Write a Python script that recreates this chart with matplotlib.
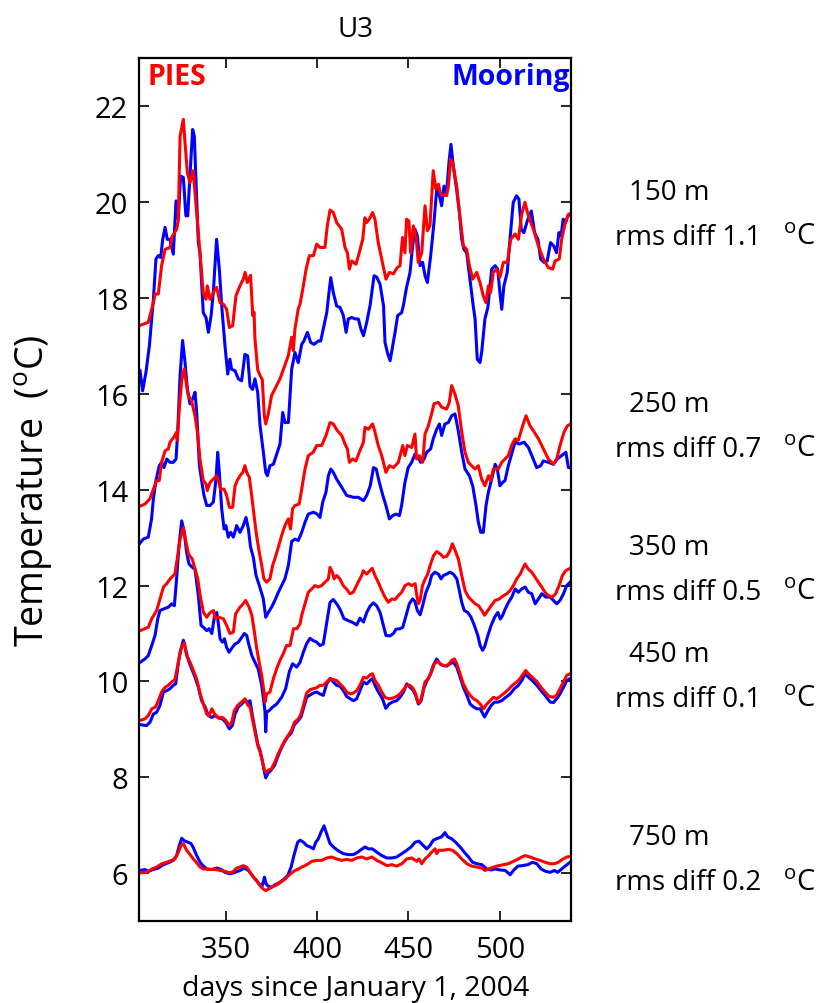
import matplotlib
matplotlib.use("Agg")
from matplotlib import pyplot as plt

# data: days since 1 Jan 2004, temperature in degC
d150_moor = [303.1, 304.5, 306.3, 308.2, 310.4, 311.8, 313.1, 314.4, 315.5, 316.8, 318.0, 319.5, 321.3, 322.8, 324.0,
             325.3, 326.8, 328.2, 329.2, 330.4, 331.9, 332.8, 334.1, 335.0, 335.9, 337.7, 339.2, 340.5, 342.0, 343.2,
             345.0, 346.5, 347.8, 349.6, 351.1, 352.3, 353.2, 355.1, 356.9, 358.7, 360.5, 362.0, 363.3, 364.7, 366.0,
             367.5, 368.8, 370.6, 371.9, 372.8, 374.2, 376.1, 377.9, 379.7, 381.2, 382.4, 384.3, 386.1, 387.9, 389.7,
             391.6, 392.8, 394.7, 396.5, 398.3, 400.7, 402.0, 403.4, 405.3, 406.5, 407.5, 408.9, 410.7, 412.6, 414.4,
             415.9, 417.1, 419.0, 420.8, 422.6, 424.0, 425.4, 427.2, 429.1, 430.0, 431.2, 432.7, 434.5, 436.4, 437.2,
             438.5, 440.0, 441.4, 442.7, 444.1, 446.3, 447.2, 449.0, 450.9, 452.3, 453.6, 454.9, 456.4, 457.8, 459.1,
             460.4, 462.2, 464.0, 465.5, 467.0, 468.2, 469.5, 470.9, 472.2, 473.3, 474.6, 476.4, 477.9, 479.2, 480.4,
             481.9, 483.7, 485.5, 486.5, 487.7, 489.2, 490.1, 491.9, 493.5, 495.6, 497.5, 498.9, 500.1, 501.1, 502.3,
             504.1, 505.6, 507.4, 509.2, 510.5, 511.8, 513.2, 515.4, 517.3, 519.1, 520.9, 522.4, 524.2, 526.0, 527.8,
             529.6, 531.1, 532.4, 533.6, 534.7, 536.0, 537.3, 539.1]
t150_moor = [16.48, 16.06, 16.44, 17.0, 17.97, 18.81, 18.88, 18.84, 19.22, 19.47, 19.22, 19.22, 18.91, 20.02, 19.64,
             20.54, 20.51, 19.71, 19.71, 20.54, 21.51, 21.37, 20.06, 19.15, 18.94, 17.69, 17.59, 17.28, 17.63, 18.11,
             19.22, 18.6, 17.83, 17.0, 16.41, 16.72, 16.51, 16.48, 16.31, 16.27, 16.82, 16.79, 16.16, 16.09, 16.31,
             16.03, 15.33, 14.78, 14.36, 14.29, 14.5, 14.53, 14.74, 14.95, 15.61, 15.4, 15.4, 16.51, 16.86, 16.65,
             17.03, 17.1, 17.28, 17.07, 17.03, 17.1, 17.1, 17.35, 17.69, 18.1, 18.42, 18.11, 17.83, 17.8, 17.63,
             17.28, 17.56, 17.59, 17.56, 17.56, 17.35, 17.21, 17.49, 17.86, 18.11, 18.46, 18.43, 18.28, 17.83, 17.07,
             16.86, 16.69, 17.0, 17.28, 17.63, 17.69, 17.83, 18.22, 18.53, 19.08, 19.43, 19.29, 18.67, 18.74, 18.46,
             18.32, 18.88, 19.57, 20.26, 20.13, 19.92, 20.33, 20.19, 20.82, 21.2, 20.75, 20.26, 19.78, 19.22, 19.01,
             18.94, 18.39, 17.83, 17.56, 16.72, 16.65, 16.86, 17.56, 17.8, 18.6, 18.67, 18.6, 18.11, 17.76, 18.25,
             18.53, 19.22, 19.99, 20.13, 20.06, 19.43, 19.36, 19.64, 19.81, 19.36, 19.22, 18.81, 18.74, 18.77, 19.15,
             19.08, 18.94, 19.36, 19.29, 19.64, 19.57, 19.71, 19.74]
d150_pies = [302.7, 307.6, 310.4, 311.3, 313.1, 314.9, 316.8, 319.5, 320.4, 323.1, 324.0, 325.0, 326.8, 327.7, 329.0,
             330.4, 332.2, 334.1, 335.9, 337.7, 339.2, 339.9, 341.4, 343.2, 345.0, 346.9, 348.7, 350.5, 352.0, 353.8,
             355.6, 357.8, 359.6, 360.6, 361.8, 363.6, 364.8, 365.5, 366.0, 367.5, 368.8, 370.0, 371.1, 371.9, 373.3,
             375.1, 376.9, 379.7, 382.4, 384.3, 386.1, 387.0, 387.9, 389.7, 390.7, 392.5, 394.0, 395.8, 398.0, 399.8,
             401.6, 404.3, 405.6, 407.1, 408.9, 410.7, 413.5, 415.3, 416.6, 417.7, 419.0, 421.3, 423.1, 425.0, 426.2,
             427.2, 428.6, 430.4, 431.7, 433.5, 435.4, 437.7, 439.6, 441.8, 443.9, 445.4, 446.8, 448.1, 449.0, 450.3,
             451.2, 452.7, 454.2, 455.4, 457.3, 459.1, 460.4, 461.8, 463.6, 465.1, 466.4, 467.7, 470.9, 471.9, 473.1,
             474.2, 476.4, 478.2, 480.1, 481.9, 483.4, 485.2, 487.4, 489.2, 491.0, 492.5, 493.8, 495.0, 496.5, 498.3,
             500.1, 502.0, 504.2, 506.0, 508.4, 510.2, 512.0, 513.8, 515.7, 518.4, 521.2, 523.9, 526.6, 529.0, 530.3,
             532.6, 533.9, 535.7, 537.6, 538.8]
t150_pies = [17.42, 17.49, 17.9, 18.08, 18.08, 18.67, 19.01, 19.05, 19.26, 19.43, 19.6, 21.37, 21.72, 21.24, 20.61,
             20.4, 20.65, 19.78, 18.94, 18.11, 17.97, 18.25, 17.97, 18.11, 18.22, 17.9, 17.87, 17.76, 17.38, 17.42,
             18.04, 18.25, 18.39, 18.53, 18.32, 18.47, 17.63, 17.7, 17.14, 16.5, 16.38, 16.3, 15.55, 15.37, 15.58,
             15.96, 16.1, 16.31, 16.6, 16.8, 17.18, 16.9, 17.35, 17.77, 17.87, 18.25, 18.6, 18.88, 18.88, 19.12,
             19.05, 19.05, 19.5, 19.83, 19.78, 19.57, 19.43, 19.05, 18.94, 18.6, 18.77, 18.7, 18.94, 19.22, 19.67,
             19.57, 19.64, 19.78, 19.64, 19.15, 18.81, 18.39, 18.53, 18.5, 18.63, 18.67, 19.26, 18.94, 19.64, 19.6,
             18.94, 19.5, 19.26, 18.74, 18.94, 19.92, 19.4, 19.5, 20.65, 20.26, 20.37, 20.16, 20.13, 20.33, 20.89,
             20.82, 20.33, 19.71, 19.08, 19.01, 18.67, 18.39, 18.53, 18.32, 18.04, 17.9, 18.25, 18.11, 18.53, 18.6,
             18.43, 18.74, 18.74, 19.22, 19.33, 19.22, 19.74, 19.99, 19.71, 19.43, 19.08, 18.81, 18.63, 18.6, 18.77,
             18.81, 19.22, 19.53, 19.74, 19.76]

d250_moor = [302.7, 304.9, 307.6, 309.4, 310.4, 311.8, 313.6, 314.9, 316.2, 317.7, 319.5, 321.3, 322.8, 323.7, 325.0,
             326.4, 327.7, 329.0, 330.4, 331.9, 333.2, 334.1, 335.6, 336.8, 338.1, 339.6, 341.4, 343.2, 344.7, 345.6,
             346.5, 347.8, 349.1, 350.1, 351.4, 352.7, 354.2, 356.0, 357.8, 359.6, 361.1, 362.4, 363.6, 365.1, 366.6,
             368.4, 370.6, 371.9, 373.3, 375.1, 376.9, 378.8, 380.6, 382.4, 384.3, 386.1, 387.9, 389.7, 391.6, 393.4,
             395.2, 398.0, 400.1, 401.6, 403.1, 404.9, 406.2, 407.5, 408.9, 410.7, 413.5, 416.2, 419.9, 422.6, 425.4,
             427.2, 429.1, 430.9, 432.4, 434.1, 436.0, 437.7, 439.6, 441.4, 443.2, 445.1, 446.3, 448.1, 449.9, 451.8,
             453.6, 455.4, 456.7, 458.6, 460.0, 462.2, 463.6, 465.5, 467.0, 468.2, 470.0, 471.9, 473.7, 475.5, 477.3,
             479.2, 481.0, 483.4, 485.2, 487.0, 488.3, 489.6, 491.0, 492.5, 493.8, 495.6, 497.5, 498.7, 500.1, 501.6,
             502.9, 504.7, 506.5, 508.4, 510.7, 513.3, 515.7, 518.0, 520.2, 522.4, 523.9, 526.6, 529.4, 531.5, 533.9,
             536.2, 537.6, 538.8]
t250_moor = [12.87, 12.97, 13.01, 13.39, 13.81, 14.19, 14.5, 14.57, 14.46, 14.64, 14.57, 14.57, 14.64, 15.2, 16.38,
             17.11, 16.66, 16.1, 15.79, 15.89, 16.03, 15.61, 14.5, 14.19, 13.88, 13.67, 13.67, 13.74, 14.22, 14.78,
             14.36, 13.6, 13.18, 13.25, 13.01, 13.11, 13.01, 13.25, 13.11, 13.25, 13.42, 13.18, 12.8, 12.59, 12.21,
             12.0, 11.72, 11.34, 11.44, 11.55, 11.69, 11.86, 12.0, 12.14, 12.42, 12.92, 12.97, 12.94, 13.11, 13.32,
             13.49, 13.53, 13.49, 13.42, 13.74, 13.95, 14.29, 14.43, 14.36, 14.22, 14.05, 13.88, 13.84, 13.84, 13.77,
             13.88, 14.08, 14.46, 14.43, 14.15, 13.88, 13.67, 13.39, 13.46, 13.49, 13.46, 13.67, 14.15, 14.46, 14.57,
             14.74, 14.67, 14.57, 14.64, 14.78, 14.85, 15.06, 15.26, 15.37, 15.13, 15.37, 15.4, 15.54, 15.58, 15.23,
             14.78, 14.43, 14.29, 14.08, 13.67, 13.32, 13.11, 13.11, 13.67, 13.95, 14.22, 14.53, 14.43, 14.08, 14.15,
             14.19, 14.5, 14.74, 14.99, 14.95, 14.99, 14.88, 14.67, 14.46, 14.5, 14.6, 14.57, 14.53, 14.64, 14.71,
             14.78, 14.46, 14.46]
d250_pies = [302.7, 305.8, 308.5, 310.4, 312.2, 313.6, 314.9, 316.8, 318.6, 319.5, 321.7, 323.1, 323.5, 324.6, 325.9,
             327.3, 328.6, 329.5, 331.3, 333.2, 334.5, 335.9, 337.7, 339.2, 339.9, 341.4, 343.2, 345.0, 345.9, 347.2,
             349.1, 350.5, 352.0, 353.8, 355.1, 356.3, 357.8, 359.3, 360.5, 361.5, 362.9, 364.2, 365.5, 366.9, 368.4,
             369.7, 370.9, 372.4, 374.2, 375.7, 376.9, 378.8, 380.6, 382.4, 384.3, 385.5, 386.6, 387.9, 390.2, 391.6,
             393.4, 395.2, 397.9, 399.8, 402.5, 404.9, 407.1, 408.9, 411.1, 413.5, 415.3, 416.6, 417.7, 419.5, 421.3,
             423.1, 425.4, 426.2, 428.1, 430.4, 431.7, 433.5, 435.4, 437.7, 439.6, 441.8, 444.5, 446.9, 448.1, 449.4,
             451.8, 453.6, 454.5, 456.0, 457.8, 459.1, 460.9, 462.7, 464.0, 466.4, 468.2, 470.9, 472.4, 473.7, 475.5,
             477.3, 479.2, 481.0, 482.8, 484.6, 486.5, 488.3, 490.1, 491.9, 493.8, 495.0, 496.5, 499.2, 501.1, 502.9,
             504.7, 506.5, 508.4, 510.2, 511.5, 512.9, 514.4, 516.6, 518.4, 521.2, 523.9, 526.6, 529.4, 531.2, 533.0,
             535.2, 537.0, 538.8]
t250_pies = [13.65, 13.7, 13.81, 14.01, 14.19, 14.19, 14.57, 14.81, 14.85, 14.99, 15.1, 15.2, 15.03, 15.69, 16.28,
             16.52, 16.17, 15.96, 15.85, 15.54, 15.2, 14.64, 14.19, 14.12, 13.98, 14.15, 14.22, 14.29, 14.19, 14.01,
             14.01, 13.88, 13.63, 13.63, 14.08, 14.19, 14.29, 14.36, 14.5, 14.36, 14.26, 13.88, 13.46, 13.04, 12.69,
             12.42, 12.14, 12.07, 12.14, 12.42, 12.56, 12.8, 13.04, 13.25, 13.39, 13.18, 13.6, 13.67, 13.7, 14.01,
             14.43, 14.71, 14.78, 14.92, 14.92, 15.13, 15.4, 15.37, 15.23, 15.13, 14.95, 14.85, 14.57, 14.64, 14.6,
             14.78, 14.99, 15.3, 15.26, 15.37, 15.2, 14.92, 14.71, 14.36, 14.5, 14.46, 14.57, 14.92, 14.71, 14.92,
             14.88, 15.16, 14.64, 14.71, 14.57, 15.16, 15.33, 15.58, 15.79, 15.82, 15.72, 15.68, 15.82, 16.17, 15.99,
             15.75, 15.2, 14.78, 14.57, 14.5, 14.43, 14.5, 14.22, 14.08, 14.29, 14.19, 14.43, 14.43, 14.57, 14.64,
             14.71, 14.92, 15.06, 15.03, 15.2, 15.37, 15.54, 15.33, 15.23, 15.06, 14.85, 14.64, 14.53, 14.64, 14.92,
             15.2, 15.33, 15.37]

d350_moor = [303.1, 305.8, 307.6, 309.5, 311.3, 312.8, 314.0, 315.9, 318.6, 320.4, 321.9, 323.1, 324.4, 325.9, 327.3,
             328.6, 329.9, 331.7, 333.2, 335.0, 336.5, 337.8, 339.6, 340.9, 342.4, 343.9, 345.1, 346.0, 346.9, 348.2,
             349.3, 350.5, 351.8, 353.6, 355.1, 356.9, 358.7, 360.2, 361.5, 362.8, 364.3, 366.0, 367.8, 369.7, 370.9,
             371.5, 371.9, 372.4, 373.7, 375.5, 377.9, 380.6, 382.8, 384.8, 386.6, 388.8, 390.7, 392.5, 394.3, 396.1,
             398.0, 399.8, 401.6, 403.4, 405.3, 407.1, 408.9, 411.1, 412.9, 414.7, 417.1, 419.5, 421.7, 423.5, 425.4,
             427.2, 429.0, 430.8, 432.6, 434.5, 436.3, 437.7, 439.9, 441.8, 443.2, 445.4, 446.9, 448.7, 450.5, 452.3,
             453.6, 454.9, 456.4, 457.8, 459.6, 461.5, 462.7, 464.5, 466.4, 467.9, 469.1, 471.0, 472.8, 474.6, 476.5,
             477.7, 479.2, 480.6, 482.5, 484.3, 486.1, 488.0, 489.3, 490.6, 491.7, 493.5, 495.3, 497.2, 499.0, 500.3,
             501.5, 503.0, 504.8, 506.6, 508.4, 510.2, 512.1, 513.9, 515.7, 517.5, 519.4, 521.2, 523.0, 525.2, 527.6,
             529.4, 531.2, 533.0, 534.9, 536.7, 538.5]
t350_moor = [10.4, 10.47, 10.54, 10.75, 10.96, 11.31, 11.48, 11.51, 11.55, 11.62, 11.58, 12.14, 12.83, 13.35, 13.11,
             12.69, 12.45, 12.38, 12.34, 11.79, 11.17, 11.13, 11.06, 11.1, 11.0, 11.38, 11.44, 11.2, 10.89, 10.82,
             10.89, 10.71, 10.61, 10.71, 10.78, 10.82, 10.92, 11.0, 10.96, 10.75, 10.54, 10.4, 10.26, 9.92, 9.57,
             9.36, 8.95, 9.36, 9.39, 9.46, 9.53, 9.67, 9.85, 10.2, 10.37, 10.3, 10.4, 10.61, 10.79, 10.9,
             10.85, 10.82, 10.75, 10.78, 11.23, 11.65, 11.71, 11.6, 11.48, 11.31, 11.27, 11.23, 11.18, 11.32, 11.24,
             11.44, 11.57, 11.64, 11.58, 11.44, 11.17, 10.96, 10.95, 11.0, 11.09, 11.1, 11.13, 11.37, 11.62, 11.72,
             11.67, 11.48, 11.39, 11.58, 11.86, 12.03, 12.21, 12.28, 12.24, 12.14, 12.21, 12.24, 12.28, 12.24, 12.14,
             11.93, 11.65, 11.48, 11.44, 11.34, 11.17, 10.96, 10.75, 10.65, 10.72, 10.96, 11.17, 11.34, 11.44, 11.3,
             11.37, 11.51, 11.65, 11.76, 11.93, 11.86, 11.93, 11.97, 11.86, 11.83, 11.62, 11.72, 11.83, 11.76, 11.76,
             11.69, 11.62, 11.69, 11.83, 12.0, 12.07]
d350_pies = [303.1, 307.6, 309.5, 312.2, 314.0, 315.9, 317.7, 319.5, 322.2, 323.7, 325.0, 326.8, 328.1, 329.6, 331.7,
             333.2, 334.7, 336.0, 337.8, 339.6, 341.5, 343.3, 344.2, 346.0, 348.7, 350.5, 352.3, 354.2, 355.4, 357.8,
             359.6, 360.9, 362.8, 364.3, 365.7, 367.0, 368.3, 369.7, 370.9, 371.5, 372.4, 374.2, 376.1, 377.9, 379.7,
             381.5, 383.3, 385.2, 386.1, 387.1, 388.9, 390.7, 391.6, 393.4, 395.2, 397.1, 398.9, 400.7, 402.5, 404.3,
             406.2, 407.1, 408.4, 409.3, 410.7, 412.5, 414.3, 416.1, 418.0, 419.8, 421.6, 422.9, 424.4, 425.3, 427.1,
             428.9, 430.2, 431.7, 433.5, 435.4, 437.2, 439.0, 440.9, 442.7, 444.5, 446.3, 448.2, 450.0, 451.8, 453.7,
             454.6, 455.5, 456.4, 457.7, 459.2, 460.6, 461.9, 463.7, 465.5, 467.4, 469.2, 471.0, 472.8, 474.1, 475.6,
             477.4, 479.2, 481.0, 482.9, 484.7, 486.5, 488.4, 490.2, 491.7, 493.5, 495.3, 497.5, 499.7, 502.0, 503.9,
             505.7, 507.5, 509.3, 511.2, 512.4, 513.9, 515.7, 517.5, 519.4, 521.2, 523.0, 524.8, 526.6, 528.8, 530.6,
             532.5, 534.3, 536.1, 538.5]
t350_pies = [11.06, 11.13, 11.31, 11.48, 11.72, 11.97, 12.04, 12.14, 12.24, 12.62, 12.97, 13.21, 12.94, 12.66, 12.55,
             12.34, 12.14, 11.79, 11.44, 11.34, 11.44, 11.48, 11.31, 11.34, 11.31, 11.17, 11.0, 11.03, 11.41, 11.55,
             11.62, 11.69, 11.55, 11.38, 11.03, 10.68, 10.4, 10.12, 9.8, 9.57, 9.74, 9.78, 10.06, 10.27, 10.44,
             10.58, 10.75, 10.75, 10.92, 11.1, 11.1, 11.2, 11.38, 11.62, 11.86, 11.93, 12.0, 11.97, 12.0, 12.07,
             12.14, 12.38, 12.28, 12.14, 12.21, 12.14, 12.0, 11.93, 11.83, 11.86, 12.0, 12.1, 12.21, 12.31, 12.24,
             12.31, 12.36, 12.21, 12.07, 11.9, 11.76, 11.65, 11.72, 11.71, 11.79, 11.86, 12.0, 12.04, 12.0, 12.04,
             11.79, 11.62, 11.69, 12.0, 12.14, 12.24, 12.42, 12.62, 12.71, 12.66, 12.59, 12.61, 12.73, 12.87, 12.73,
             12.55, 12.21, 11.9, 11.76, 11.69, 11.62, 11.58, 11.48, 11.38, 11.48, 11.58, 11.69, 11.72, 11.79, 11.83,
             11.9, 12.0, 12.14, 12.24, 12.34, 12.45, 12.34, 12.28, 12.17, 12.07, 11.97, 11.86, 11.79, 11.76, 11.83,
             12.0, 12.21, 12.31, 12.36]

d450_moor = [303.1, 306.7, 308.5, 310.4, 312.2, 314.0, 315.9, 317.7, 319.5, 321.3, 322.6, 324.1, 325.5, 326.8, 328.1,
             329.6, 331.4, 333.2, 335.0, 336.8, 338.7, 340.5, 342.3, 344.2, 346.0, 348.2, 350.0, 352.0, 353.6, 355.1,
             356.9, 358.7, 360.6, 362.4, 363.3, 364.6, 366.0, 367.5, 368.8, 370.0, 371.2, 371.9, 373.0, 374.8, 376.7,
             378.5, 380.3, 382.2, 384.0, 385.8, 387.6, 389.8, 391.2, 392.5, 394.3, 396.2, 398.0, 399.8, 401.6, 403.4,
             405.3, 407.1, 408.9, 410.7, 412.6, 414.4, 416.2, 418.1, 419.9, 421.7, 423.5, 425.4, 427.2, 429.0, 430.3,
             431.7, 433.6, 435.8, 437.6, 439.4, 441.2, 443.6, 445.4, 447.3, 449.1, 450.9, 452.7, 454.0, 455.5, 457.0,
             458.4, 460.0, 461.8, 463.6, 465.5, 467.3, 469.1, 471.0, 472.8, 474.6, 476.5, 478.3, 480.1, 482.0, 483.8,
             485.6, 487.5, 489.3, 491.7, 493.5, 495.3, 497.2, 499.0, 501.1, 503.3, 505.7, 508.0, 510.2, 512.1, 513.9,
             515.7, 517.8, 520.3, 522.6, 524.8, 527.6, 529.4, 531.2, 533.0, 534.9, 536.7, 538.5]
t450_moor = [9.1, 9.08, 9.15, 9.32, 9.36, 9.5, 9.78, 9.81, 9.85, 9.92, 9.95, 10.4, 10.68, 10.86, 10.65,
             10.44, 10.26, 10.09, 9.88, 9.6, 9.47, 9.29, 9.25, 9.29, 9.24, 9.22, 9.15, 9.01, 9.08, 9.32,
             9.47, 9.53, 9.6, 9.57, 9.6, 9.29, 9.01, 8.7, 8.56, 8.35, 8.11, 7.99, 8.08, 8.15, 8.25,
             8.43, 8.6, 8.74, 8.85, 8.92, 9.1, 9.19, 9.26, 9.43, 9.67, 9.72, 9.76, 9.78, 9.74, 9.71,
             9.95, 10.06, 9.99, 9.92, 9.9, 9.81, 9.69, 9.64, 9.6, 9.64, 9.81, 9.99, 9.95, 10.02, 10.06,
             9.92, 9.78, 9.64, 9.44, 9.53, 9.57, 9.6, 9.67, 9.78, 9.95, 9.88, 9.81, 9.71, 9.53, 9.6,
             9.85, 10.0, 10.13, 10.33, 10.47, 10.37, 10.33, 10.32, 10.37, 10.4, 10.3, 10.09, 9.88, 9.71, 9.53,
             9.47, 9.43, 9.43, 9.26, 9.39, 9.5, 9.57, 9.57, 9.6, 9.67, 9.74, 9.85, 9.92, 10.02, 10.16,
             10.09, 10.02, 9.92, 9.81, 9.71, 9.57, 9.56, 9.64, 9.74, 9.88, 10.02, 10.06]
d450_pies = [303.1, 305.8, 307.6, 309.5, 311.6, 313.1, 314.9, 316.8, 318.6, 320.4, 322.2, 323.7, 325.0, 326.3, 327.4,
             328.6, 330.5, 332.3, 334.1, 336.0, 337.8, 339.6, 340.9, 342.4, 343.9, 346.0, 348.2, 350.0, 351.8, 353.3,
             354.7, 356.5, 358.7, 360.6, 362.0, 363.3, 364.6, 366.0, 367.5, 368.8, 370.0, 371.2, 372.0, 373.3, 375.1,
             376.9, 378.8, 380.6, 382.5, 384.3, 386.1, 387.6, 389.8, 391.2, 392.5, 394.3, 396.2, 398.0, 399.8, 401.6,
             403.4, 405.3, 407.1, 408.9, 410.7, 412.6, 414.4, 416.2, 418.1, 419.9, 421.7, 423.5, 425.4, 427.2, 429.0,
             430.3, 431.7, 433.6, 435.4, 437.2, 439.1, 441.2, 443.6, 445.4, 447.3, 449.1, 450.9, 452.7, 454.0, 455.1,
             456.4, 457.6, 459.1, 460.9, 462.7, 464.2, 466.0, 467.9, 470.1, 471.9, 473.7, 475.2, 476.5, 478.3, 480.1,
             482.0, 483.8, 485.6, 487.5, 489.3, 491.1, 492.9, 494.8, 496.6, 498.4, 500.2, 502.6, 504.7, 506.9, 509.3,
             511.1, 512.9, 514.2, 515.7, 517.8, 520.3, 522.6, 524.8, 527.0, 529.4, 531.2, 533.0, 534.9, 536.7, 538.5]
t450_pies = [9.19, 9.22, 9.29, 9.43, 9.47, 9.6, 9.78, 9.88, 9.92, 9.99, 10.04, 10.33, 10.61, 10.75, 10.81,
             10.54, 10.4, 10.23, 10.05, 9.74, 9.53, 9.32, 9.29, 9.43, 9.32, 9.25, 9.25, 9.19, 9.08, 9.15,
             9.39, 9.5, 9.57, 9.64, 9.51, 9.47, 9.22, 8.94, 8.67, 8.53, 8.35, 8.15, 8.11, 8.15, 8.18,
             8.32, 8.5, 8.64, 8.78, 8.88, 8.99, 9.15, 9.22, 9.32, 9.5, 9.76, 9.83, 9.85, 9.87, 9.92,
             9.92, 9.99, 10.06, 10.04, 10.02, 9.95, 9.88, 9.78, 9.74, 9.76, 9.81, 9.92, 10.09, 10.07, 10.14,
             10.16, 10.02, 9.92, 9.78, 9.67, 9.64, 9.65, 9.69, 9.74, 9.83, 9.92, 9.92, 9.85, 9.74, 9.57,
             9.57, 9.74, 9.99, 10.06, 10.2, 10.37, 10.42, 10.35, 10.33, 10.35, 10.44, 10.47, 10.37, 10.16, 9.95,
             9.81, 9.71, 9.64, 9.6, 9.53, 9.43, 9.53, 9.6, 9.67, 9.64, 9.69, 9.76, 9.83, 9.92, 9.99,
             10.06, 10.16, 10.23, 10.16, 10.09, 10.0, 9.88, 9.78, 9.69, 9.67, 9.72, 9.85, 9.99, 10.13, 10.16]

d750_moor = [303.1, 305.8, 307.6, 310.4, 313.1, 315.9, 318.6, 321.3, 323.1, 324.6, 325.9, 327.3, 329.2, 331.0, 332.3,
             334.1, 336.0, 337.8, 339.6, 342.4, 345.1, 347.5, 349.6, 352.3, 355.1, 357.8, 360.2, 362.4, 364.6, 366.4,
             368.3, 370.0, 371.2, 372.1, 373.3, 375.1, 376.9, 379.1, 381.6, 383.9, 385.8, 387.6, 389.4, 390.7, 392.5,
             394.3, 396.2, 398.0, 399.3, 400.7, 402.2, 403.8, 405.3, 407.1, 409.5, 412.0, 414.4, 417.1, 419.9, 422.2,
             424.4, 426.3, 428.1, 430.3, 432.7, 435.4, 438.2, 440.9, 443.6, 446.4, 449.1, 451.5, 453.7, 455.8, 457.6,
             460.0, 461.8, 463.6, 466.0, 468.2, 470.0, 471.5, 473.7, 475.8, 478.3, 480.6, 482.9, 485.1, 487.5, 490.2,
             492.9, 495.3, 497.5, 500.2, 503.0, 505.7, 507.5, 509.9, 512.4, 515.4, 517.9, 520.3, 522.6, 525.2, 527.6,
             529.9, 531.7, 533.9, 536.1, 538.5]
t750_moor = [6.06, 6.08, 6.04, 6.08, 6.11, 6.18, 6.22, 6.27, 6.37, 6.58, 6.73, 6.68, 6.65, 6.62, 6.53,
             6.37, 6.23, 6.15, 6.09, 6.08, 6.11, 6.08, 6.02, 5.99, 6.02, 6.06, 6.11, 6.06, 5.95, 5.87,
             5.78, 5.74, 5.92, 5.78, 5.73, 5.71, 5.76, 5.8, 5.87, 5.95, 6.13, 6.41, 6.65, 6.69, 6.65,
             6.58, 6.55, 6.51, 6.65, 6.72, 6.86, 6.99, 6.82, 6.62, 6.53, 6.46, 6.41, 6.39, 6.39, 6.44,
             6.5, 6.55, 6.51, 6.51, 6.44, 6.37, 6.32, 6.32, 6.34, 6.41, 6.48, 6.55, 6.65, 6.67, 6.6,
             6.51, 6.58, 6.69, 6.73, 6.76, 6.85, 6.76, 6.72, 6.65, 6.55, 6.44, 6.34, 6.23, 6.2, 6.18,
             6.09, 6.07, 6.09, 6.07, 6.06, 5.97, 6.06, 6.15, 6.16, 6.18, 6.23, 6.2, 6.09, 6.04, 6.02,
             6.06, 6.02, 6.09, 6.16, 6.23]
d750_pies = [303.1, 306.7, 309.5, 312.2, 315.0, 317.7, 320.4, 322.2, 324.1, 325.5, 326.8, 328.6, 330.5, 332.3, 334.1,
             336.0, 337.8, 339.6, 341.5, 344.2, 346.9, 349.6, 352.3, 354.2, 356.0, 357.8, 359.6, 361.5, 363.3, 365.1,
             366.9, 368.8, 370.6, 371.9, 373.3, 375.1, 376.9, 378.8, 380.6, 382.5, 384.3, 386.1, 388.0, 389.8, 391.6,
             393.4, 395.2, 397.1, 399.8, 402.5, 405.3, 408.0, 410.7, 413.5, 416.2, 419.0, 421.7, 424.5, 427.2, 430.0,
             432.7, 435.4, 438.2, 440.9, 443.6, 446.4, 449.1, 451.8, 454.6, 455.8, 457.3, 459.1, 460.9, 462.7, 464.6,
             465.5, 466.7, 469.1, 471.9, 474.1, 476.5, 479.2, 482.0, 484.7, 487.5, 490.2, 492.0, 493.8, 496.6, 499.4,
             502.0, 504.7, 507.5, 510.2, 512.1, 513.9, 516.6, 519.4, 522.1, 524.8, 527.6, 530.0, 532.1, 534.3, 536.7,
             538.5]
t750_pies = [6.01, 6.02, 6.09, 6.13, 6.2, 6.23, 6.27, 6.3, 6.44, 6.58, 6.62, 6.48, 6.39, 6.3, 6.22,
             6.13, 6.09, 6.09, 6.08, 6.08, 6.06, 6.04, 6.01, 6.04, 6.11, 6.13, 6.16, 6.13, 6.02, 5.92,
             5.85, 5.74, 5.67, 5.64, 5.67, 5.71, 5.74, 5.78, 5.83, 5.88, 5.95, 6.01, 6.06, 6.09, 6.13,
             6.16, 6.2, 6.25, 6.27, 6.27, 6.32, 6.34, 6.3, 6.27, 6.29, 6.27, 6.32, 6.34, 6.3, 6.34,
             6.27, 6.22, 6.16, 6.18, 6.15, 6.2, 6.3, 6.32, 6.25, 6.3, 6.2, 6.3, 6.36, 6.44, 6.51,
             6.41, 6.48, 6.48, 6.5, 6.48, 6.41, 6.3, 6.2, 6.15, 6.13, 6.11, 6.06, 6.09, 6.13, 6.16,
             6.18, 6.2, 6.25, 6.3, 6.34, 6.37, 6.34, 6.3, 6.27, 6.23, 6.2, 6.2, 6.23, 6.29, 6.34,
             6.35]

depth_labels = ["150 m", "250 m", "350 m", "450 m", "750 m"]
rms_labels = ["rms diff 1.1", "rms diff 0.7", "rms diff 0.5", "rms diff 0.1", "rms diff 0.2"]
label_y = [0.8078, 0.5966, 0.4542, 0.3476, 0.1653]   # figure fraction of the depth line

FONT = "Open Sans"


def main():
    plt.rcParams['font.family'] = [FONT, 'DejaVu Sans']
    plt.rcParams['mathtext.fontset'] = 'custom'
    plt.rcParams['mathtext.rm'] = FONT
    plt.rcParams['mathtext.it'] = FONT

    fig = plt.figure(figsize=(8.21, 10.04), dpi=100)
    ax = fig.add_axes([0.1697, 0.0814, 0.5262, 0.8598])

    pairs = [(d150_moor, t150_moor, d150_pies, t150_pies),
             (d250_moor, t250_moor, d250_pies, t250_pies),
             (d350_moor, t350_moor, d350_pies, t350_pies),
             (d450_moor, t450_moor, d450_pies, t450_pies),
             (d750_moor, t750_moor, d750_pies, t750_pies)]
    for dm, tm, dp, tp in pairs:
        ax.plot(dm, tm, color='#0000ff', lw=2.2)
        ax.plot(dp, tp, color='#ff0000', lw=2.2)

    ax.set_xlim(302.7, 539.2)
    ax.set_ylim(5, 23)
    ax.set_xticks([350, 400, 450, 500])
    ax.set_yticks(range(6, 23, 2))
    ax.tick_params(direction='in', length=7, width=1.2, top=True, right=True, labelsize=21)
    ax.tick_params(axis='y', pad=8)
    ax.tick_params(axis='x', pad=10)
    for s in ax.spines.values():
        s.set_linewidth(1.6)

    ax.set_title("U3", fontsize=20, pad=16)
    ax.set_xlabel("days since January 1, 2004", fontsize=20.5, labelpad=7)
    ax.set_ylabel("Temperature  ($^{\\rm o}$C)", fontsize=27, va='center')
    ax.yaxis.set_label_coords(-0.244, 0.5)

    ax.text(0.02, 0.995, "PIES", color='#ff0000', fontsize=20.5, fontweight='bold',
            transform=ax.transAxes, ha='left', va='top')
    ax.text(0.998, 0.995, "Mooring", color='#0000ff', fontsize=20.5, fontweight='bold',
            transform=ax.transAxes, ha='right', va='top')

    for i in range(len(depth_labels)):
        fig.text(0.815, label_y[i], depth_labels[i], fontsize=20, ha='center', va='center')
        fig.text(0.749, label_y[i] - 0.0448, rms_labels[i], fontsize=20, ha='left', va='center')
        fig.text(0.954, label_y[i] - 0.0448, "$^{\\rm o}$C", fontsize=21, ha='left', va='center')

    plt.savefig("out.png", dpi=100)


if __name__ == "__main__":
    main()
